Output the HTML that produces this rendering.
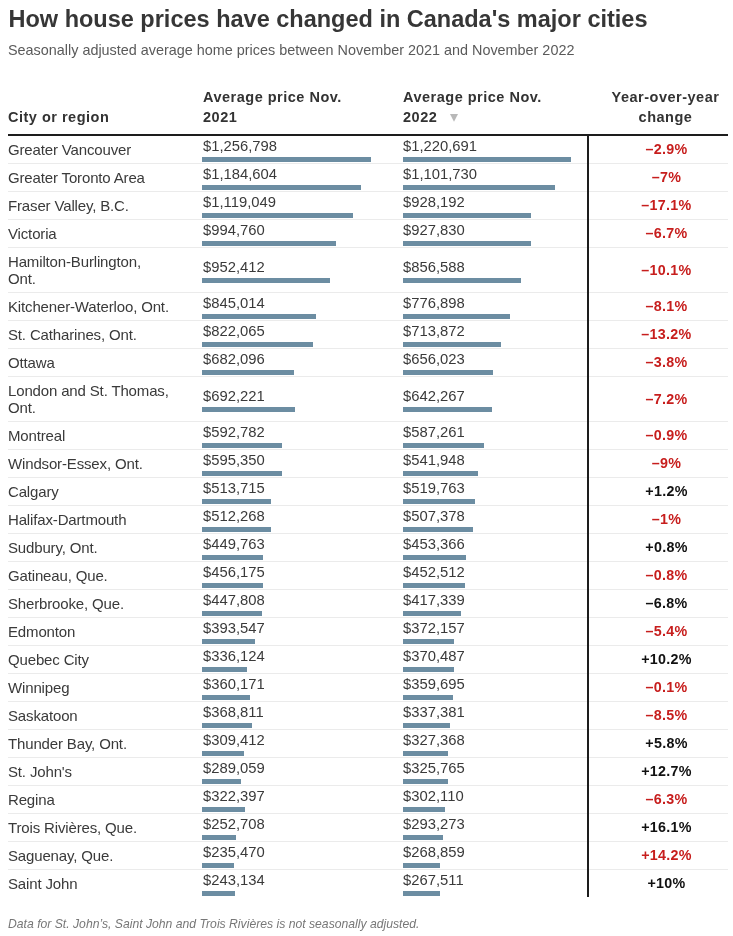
<!DOCTYPE html>
<html><head><meta charset="utf-8"><style>
html,body{margin:0;padding:0;background:#fff;width:733px;height:936px;overflow:hidden;position:relative}
#w{position:absolute;left:0;top:0;width:733px;height:936px;will-change:transform}
.t{position:absolute;white-space:nowrap;font-family:"Liberation Sans",sans-serif;line-height:1}
.b{position:absolute;height:5px;background:#6c8da2}
</style></head><body><div id="w">
<div class="t" style="left:8.5px;top:8.11px;font-size:23.5px;font-weight:700;color:#363636;">How house prices have changed in Canada's major cities</div>
<div class="t" style="left:8px;top:42.61px;font-size:14.4px;color:#5a5a5a;">Seasonally adjusted average home prices between November 2021 and November 2022</div>
<div class="t" style="left:8px;top:110.23px;font-size:14.5px;font-weight:700;color:#333;letter-spacing:0.5px;">City or region</div>
<div class="t" style="left:203px;top:89.53px;font-size:14.5px;font-weight:700;color:#333;letter-spacing:0.5px;">Average price Nov.</div>
<div class="t" style="left:203px;top:110.23px;font-size:14.5px;font-weight:700;color:#333;letter-spacing:0.5px;">2021</div>
<div class="t" style="left:403px;top:89.53px;font-size:14.5px;font-weight:700;color:#333;letter-spacing:0.5px;">Average price Nov.</div>
<div class="t" style="left:403px;top:110.23px;font-size:14.5px;font-weight:700;color:#333;letter-spacing:0.5px;">2022</div>
<div class="t" style="left:565.5px;width:200px;text-align:center;top:89.53px;font-size:14.5px;font-weight:700;color:#333;letter-spacing:0.5px;">Year-over-year</div>
<div class="t" style="left:565.5px;width:200px;text-align:center;top:110.23px;font-size:14.5px;font-weight:700;color:#333;letter-spacing:0.5px;">change</div>
<svg style="position:absolute;left:450px;top:114px" width="8" height="8"><path d="M0 0 L8 0 L4 7.8 Z" fill="#b8b8b8"/></svg>
<div style="position:absolute;left:8px;top:134px;width:720px;height:2px;background:#1d1d1d"></div>
<div class="t" style="left:8px;top:141.90px;font-size:15px;color:#3a3a3a;letter-spacing:-0.15px;">Greater Vancouver</div>
<div class="t" style="left:203px;top:139.27px;font-size:14.8px;color:#3a3a3a;letter-spacing:0px;">$1,256,798</div>
<div class="t" style="left:403px;top:139.27px;font-size:14.8px;color:#3a3a3a;letter-spacing:0px;">$1,220,691</div>
<div class="b" style="left:202px;top:157.0px;width:169.0px"></div>
<div class="b" style="left:403px;top:157.0px;width:168.2px"></div>
<div class="t" style="left:566.5px;width:200px;text-align:center;top:142.10px;font-size:14.3px;font-weight:700;color:#c71e1d;letter-spacing:0.3px;">–2.9%</div>
<div style="position:absolute;left:8px;top:163px;width:720px;height:1px;background:#ebebeb"></div>
<div class="t" style="left:8px;top:169.90px;font-size:15px;color:#3a3a3a;letter-spacing:-0.15px;">Greater Toronto Area</div>
<div class="t" style="left:203px;top:167.27px;font-size:14.8px;color:#3a3a3a;letter-spacing:0px;">$1,184,604</div>
<div class="t" style="left:403px;top:167.27px;font-size:14.8px;color:#3a3a3a;letter-spacing:0px;">$1,101,730</div>
<div class="b" style="left:202px;top:185.0px;width:159.3px"></div>
<div class="b" style="left:403px;top:185.0px;width:151.8px"></div>
<div class="t" style="left:566.5px;width:200px;text-align:center;top:170.10px;font-size:14.3px;font-weight:700;color:#c71e1d;letter-spacing:0.3px;">–7%</div>
<div style="position:absolute;left:8px;top:191px;width:720px;height:1px;background:#ebebeb"></div>
<div class="t" style="left:8px;top:197.90px;font-size:15px;color:#3a3a3a;letter-spacing:-0.15px;">Fraser Valley, B.C.</div>
<div class="t" style="left:203px;top:195.27px;font-size:14.8px;color:#3a3a3a;letter-spacing:0px;">$1,119,049</div>
<div class="t" style="left:403px;top:195.27px;font-size:14.8px;color:#3a3a3a;letter-spacing:0px;">$928,192</div>
<div class="b" style="left:202px;top:213.0px;width:150.5px"></div>
<div class="b" style="left:403px;top:213.0px;width:127.9px"></div>
<div class="t" style="left:566.5px;width:200px;text-align:center;top:198.10px;font-size:14.3px;font-weight:700;color:#c71e1d;letter-spacing:0.3px;">–17.1%</div>
<div style="position:absolute;left:8px;top:219px;width:720px;height:1px;background:#ebebeb"></div>
<div class="t" style="left:8px;top:225.90px;font-size:15px;color:#3a3a3a;letter-spacing:-0.15px;">Victoria</div>
<div class="t" style="left:203px;top:223.27px;font-size:14.8px;color:#3a3a3a;letter-spacing:0px;">$994,760</div>
<div class="t" style="left:403px;top:223.27px;font-size:14.8px;color:#3a3a3a;letter-spacing:0px;">$927,830</div>
<div class="b" style="left:202px;top:241.0px;width:133.8px"></div>
<div class="b" style="left:403px;top:241.0px;width:127.8px"></div>
<div class="t" style="left:566.5px;width:200px;text-align:center;top:226.10px;font-size:14.3px;font-weight:700;color:#c71e1d;letter-spacing:0.3px;">–6.7%</div>
<div style="position:absolute;left:8px;top:247px;width:720px;height:1px;background:#ebebeb"></div>
<div class="t" style="left:8px;top:254.20px;font-size:15px;color:#3a3a3a;letter-spacing:-0.15px;">Hamilton-Burlington,</div>
<div class="t" style="left:8px;top:270.80px;font-size:15px;color:#3a3a3a;letter-spacing:-0.15px;">Ont.</div>
<div class="t" style="left:203px;top:259.77px;font-size:14.8px;color:#3a3a3a;letter-spacing:0px;">$952,412</div>
<div class="t" style="left:403px;top:259.77px;font-size:14.8px;color:#3a3a3a;letter-spacing:0px;">$856,588</div>
<div class="b" style="left:202px;top:277.5px;width:128.1px"></div>
<div class="b" style="left:403px;top:277.5px;width:118.0px"></div>
<div class="t" style="left:566.5px;width:200px;text-align:center;top:262.60px;font-size:14.3px;font-weight:700;color:#c71e1d;letter-spacing:0.3px;">–10.1%</div>
<div style="position:absolute;left:8px;top:292px;width:720px;height:1px;background:#ebebeb"></div>
<div class="t" style="left:8px;top:298.90px;font-size:15px;color:#3a3a3a;letter-spacing:-0.15px;">Kitchener-Waterloo, Ont.</div>
<div class="t" style="left:203px;top:296.27px;font-size:14.8px;color:#3a3a3a;letter-spacing:0px;">$845,014</div>
<div class="t" style="left:403px;top:296.27px;font-size:14.8px;color:#3a3a3a;letter-spacing:0px;">$776,898</div>
<div class="b" style="left:202px;top:314.0px;width:113.6px"></div>
<div class="b" style="left:403px;top:314.0px;width:107.0px"></div>
<div class="t" style="left:566.5px;width:200px;text-align:center;top:299.10px;font-size:14.3px;font-weight:700;color:#c71e1d;letter-spacing:0.3px;">–8.1%</div>
<div style="position:absolute;left:8px;top:320px;width:720px;height:1px;background:#ebebeb"></div>
<div class="t" style="left:8px;top:326.90px;font-size:15px;color:#3a3a3a;letter-spacing:-0.15px;">St. Catharines, Ont.</div>
<div class="t" style="left:203px;top:324.27px;font-size:14.8px;color:#3a3a3a;letter-spacing:0px;">$822,065</div>
<div class="t" style="left:403px;top:324.27px;font-size:14.8px;color:#3a3a3a;letter-spacing:0px;">$713,872</div>
<div class="b" style="left:202px;top:342.0px;width:110.5px"></div>
<div class="b" style="left:403px;top:342.0px;width:98.4px"></div>
<div class="t" style="left:566.5px;width:200px;text-align:center;top:327.10px;font-size:14.3px;font-weight:700;color:#c71e1d;letter-spacing:0.3px;">–13.2%</div>
<div style="position:absolute;left:8px;top:348px;width:720px;height:1px;background:#ebebeb"></div>
<div class="t" style="left:8px;top:354.90px;font-size:15px;color:#3a3a3a;letter-spacing:-0.15px;">Ottawa</div>
<div class="t" style="left:203px;top:352.27px;font-size:14.8px;color:#3a3a3a;letter-spacing:0px;">$682,096</div>
<div class="t" style="left:403px;top:352.27px;font-size:14.8px;color:#3a3a3a;letter-spacing:0px;">$656,023</div>
<div class="b" style="left:202px;top:370.0px;width:91.7px"></div>
<div class="b" style="left:403px;top:370.0px;width:90.4px"></div>
<div class="t" style="left:566.5px;width:200px;text-align:center;top:355.10px;font-size:14.3px;font-weight:700;color:#c71e1d;letter-spacing:0.3px;">–3.8%</div>
<div style="position:absolute;left:8px;top:376px;width:720px;height:1px;background:#ebebeb"></div>
<div class="t" style="left:8px;top:383.20px;font-size:15px;color:#3a3a3a;letter-spacing:-0.15px;">London and St. Thomas,</div>
<div class="t" style="left:8px;top:399.80px;font-size:15px;color:#3a3a3a;letter-spacing:-0.15px;">Ont.</div>
<div class="t" style="left:203px;top:388.77px;font-size:14.8px;color:#3a3a3a;letter-spacing:0px;">$692,221</div>
<div class="t" style="left:403px;top:388.77px;font-size:14.8px;color:#3a3a3a;letter-spacing:0px;">$642,267</div>
<div class="b" style="left:202px;top:406.5px;width:93.1px"></div>
<div class="b" style="left:403px;top:406.5px;width:88.5px"></div>
<div class="t" style="left:566.5px;width:200px;text-align:center;top:391.60px;font-size:14.3px;font-weight:700;color:#c71e1d;letter-spacing:0.3px;">–7.2%</div>
<div style="position:absolute;left:8px;top:421px;width:720px;height:1px;background:#ebebeb"></div>
<div class="t" style="left:8px;top:427.90px;font-size:15px;color:#3a3a3a;letter-spacing:-0.15px;">Montreal</div>
<div class="t" style="left:203px;top:425.27px;font-size:14.8px;color:#3a3a3a;letter-spacing:0px;">$592,782</div>
<div class="t" style="left:403px;top:425.27px;font-size:14.8px;color:#3a3a3a;letter-spacing:0px;">$587,261</div>
<div class="b" style="left:202px;top:443.0px;width:79.7px"></div>
<div class="b" style="left:403px;top:443.0px;width:80.9px"></div>
<div class="t" style="left:566.5px;width:200px;text-align:center;top:428.10px;font-size:14.3px;font-weight:700;color:#c71e1d;letter-spacing:0.3px;">–0.9%</div>
<div style="position:absolute;left:8px;top:449px;width:720px;height:1px;background:#ebebeb"></div>
<div class="t" style="left:8px;top:455.90px;font-size:15px;color:#3a3a3a;letter-spacing:-0.15px;">Windsor-Essex, Ont.</div>
<div class="t" style="left:203px;top:453.27px;font-size:14.8px;color:#3a3a3a;letter-spacing:0px;">$595,350</div>
<div class="t" style="left:403px;top:453.27px;font-size:14.8px;color:#3a3a3a;letter-spacing:0px;">$541,948</div>
<div class="b" style="left:202px;top:471.0px;width:80.1px"></div>
<div class="b" style="left:403px;top:471.0px;width:74.7px"></div>
<div class="t" style="left:566.5px;width:200px;text-align:center;top:456.10px;font-size:14.3px;font-weight:700;color:#c71e1d;letter-spacing:0.3px;">–9%</div>
<div style="position:absolute;left:8px;top:477px;width:720px;height:1px;background:#ebebeb"></div>
<div class="t" style="left:8px;top:483.90px;font-size:15px;color:#3a3a3a;letter-spacing:-0.15px;">Calgary</div>
<div class="t" style="left:203px;top:481.27px;font-size:14.8px;color:#3a3a3a;letter-spacing:0px;">$513,715</div>
<div class="t" style="left:403px;top:481.27px;font-size:14.8px;color:#3a3a3a;letter-spacing:0px;">$519,763</div>
<div class="b" style="left:202px;top:499.0px;width:69.1px"></div>
<div class="b" style="left:403px;top:499.0px;width:71.6px"></div>
<div class="t" style="left:566.5px;width:200px;text-align:center;top:484.10px;font-size:14.3px;font-weight:700;color:#111;letter-spacing:0.3px;">+1.2%</div>
<div style="position:absolute;left:8px;top:505px;width:720px;height:1px;background:#ebebeb"></div>
<div class="t" style="left:8px;top:511.90px;font-size:15px;color:#3a3a3a;letter-spacing:-0.15px;">Halifax-Dartmouth</div>
<div class="t" style="left:203px;top:509.27px;font-size:14.8px;color:#3a3a3a;letter-spacing:0px;">$512,268</div>
<div class="t" style="left:403px;top:509.27px;font-size:14.8px;color:#3a3a3a;letter-spacing:0px;">$507,378</div>
<div class="b" style="left:202px;top:527.0px;width:68.9px"></div>
<div class="b" style="left:403px;top:527.0px;width:69.9px"></div>
<div class="t" style="left:566.5px;width:200px;text-align:center;top:512.10px;font-size:14.3px;font-weight:700;color:#c71e1d;letter-spacing:0.3px;">–1%</div>
<div style="position:absolute;left:8px;top:533px;width:720px;height:1px;background:#ebebeb"></div>
<div class="t" style="left:8px;top:539.90px;font-size:15px;color:#3a3a3a;letter-spacing:-0.15px;">Sudbury, Ont.</div>
<div class="t" style="left:203px;top:537.27px;font-size:14.8px;color:#3a3a3a;letter-spacing:0px;">$449,763</div>
<div class="t" style="left:403px;top:537.27px;font-size:14.8px;color:#3a3a3a;letter-spacing:0px;">$453,366</div>
<div class="b" style="left:202px;top:555.0px;width:60.5px"></div>
<div class="b" style="left:403px;top:555.0px;width:62.5px"></div>
<div class="t" style="left:566.5px;width:200px;text-align:center;top:540.10px;font-size:14.3px;font-weight:700;color:#111;letter-spacing:0.3px;">+0.8%</div>
<div style="position:absolute;left:8px;top:561px;width:720px;height:1px;background:#ebebeb"></div>
<div class="t" style="left:8px;top:567.90px;font-size:15px;color:#3a3a3a;letter-spacing:-0.15px;">Gatineau, Que.</div>
<div class="t" style="left:203px;top:565.27px;font-size:14.8px;color:#3a3a3a;letter-spacing:0px;">$456,175</div>
<div class="t" style="left:403px;top:565.27px;font-size:14.8px;color:#3a3a3a;letter-spacing:0px;">$452,512</div>
<div class="b" style="left:202px;top:583.0px;width:61.3px"></div>
<div class="b" style="left:403px;top:583.0px;width:62.4px"></div>
<div class="t" style="left:566.5px;width:200px;text-align:center;top:568.10px;font-size:14.3px;font-weight:700;color:#c71e1d;letter-spacing:0.3px;">–0.8%</div>
<div style="position:absolute;left:8px;top:589px;width:720px;height:1px;background:#ebebeb"></div>
<div class="t" style="left:8px;top:595.90px;font-size:15px;color:#3a3a3a;letter-spacing:-0.15px;">Sherbrooke, Que.</div>
<div class="t" style="left:203px;top:593.27px;font-size:14.8px;color:#3a3a3a;letter-spacing:0px;">$447,808</div>
<div class="t" style="left:403px;top:593.27px;font-size:14.8px;color:#3a3a3a;letter-spacing:0px;">$417,339</div>
<div class="b" style="left:202px;top:611.0px;width:60.2px"></div>
<div class="b" style="left:403px;top:611.0px;width:57.5px"></div>
<div class="t" style="left:566.5px;width:200px;text-align:center;top:596.10px;font-size:14.3px;font-weight:700;color:#111;letter-spacing:0.3px;">–6.8%</div>
<div style="position:absolute;left:8px;top:617px;width:720px;height:1px;background:#ebebeb"></div>
<div class="t" style="left:8px;top:623.90px;font-size:15px;color:#3a3a3a;letter-spacing:-0.15px;">Edmonton</div>
<div class="t" style="left:203px;top:621.27px;font-size:14.8px;color:#3a3a3a;letter-spacing:0px;">$393,547</div>
<div class="t" style="left:403px;top:621.27px;font-size:14.8px;color:#3a3a3a;letter-spacing:0px;">$372,157</div>
<div class="b" style="left:202px;top:639.0px;width:52.9px"></div>
<div class="b" style="left:403px;top:639.0px;width:51.3px"></div>
<div class="t" style="left:566.5px;width:200px;text-align:center;top:624.10px;font-size:14.3px;font-weight:700;color:#c71e1d;letter-spacing:0.3px;">–5.4%</div>
<div style="position:absolute;left:8px;top:645px;width:720px;height:1px;background:#ebebeb"></div>
<div class="t" style="left:8px;top:651.90px;font-size:15px;color:#3a3a3a;letter-spacing:-0.15px;">Quebec City</div>
<div class="t" style="left:203px;top:649.27px;font-size:14.8px;color:#3a3a3a;letter-spacing:0px;">$336,124</div>
<div class="t" style="left:403px;top:649.27px;font-size:14.8px;color:#3a3a3a;letter-spacing:0px;">$370,487</div>
<div class="b" style="left:202px;top:667.0px;width:45.2px"></div>
<div class="b" style="left:403px;top:667.0px;width:51.0px"></div>
<div class="t" style="left:566.5px;width:200px;text-align:center;top:652.10px;font-size:14.3px;font-weight:700;color:#111;letter-spacing:0.3px;">+10.2%</div>
<div style="position:absolute;left:8px;top:673px;width:720px;height:1px;background:#ebebeb"></div>
<div class="t" style="left:8px;top:679.90px;font-size:15px;color:#3a3a3a;letter-spacing:-0.15px;">Winnipeg</div>
<div class="t" style="left:203px;top:677.27px;font-size:14.8px;color:#3a3a3a;letter-spacing:0px;">$360,171</div>
<div class="t" style="left:403px;top:677.27px;font-size:14.8px;color:#3a3a3a;letter-spacing:0px;">$359,695</div>
<div class="b" style="left:202px;top:695.0px;width:48.4px"></div>
<div class="b" style="left:403px;top:695.0px;width:49.6px"></div>
<div class="t" style="left:566.5px;width:200px;text-align:center;top:680.10px;font-size:14.3px;font-weight:700;color:#c71e1d;letter-spacing:0.3px;">–0.1%</div>
<div style="position:absolute;left:8px;top:701px;width:720px;height:1px;background:#ebebeb"></div>
<div class="t" style="left:8px;top:707.90px;font-size:15px;color:#3a3a3a;letter-spacing:-0.15px;">Saskatoon</div>
<div class="t" style="left:203px;top:705.27px;font-size:14.8px;color:#3a3a3a;letter-spacing:0px;">$368,811</div>
<div class="t" style="left:403px;top:705.27px;font-size:14.8px;color:#3a3a3a;letter-spacing:0px;">$337,381</div>
<div class="b" style="left:202px;top:723.0px;width:49.6px"></div>
<div class="b" style="left:403px;top:723.0px;width:46.5px"></div>
<div class="t" style="left:566.5px;width:200px;text-align:center;top:708.10px;font-size:14.3px;font-weight:700;color:#c71e1d;letter-spacing:0.3px;">–8.5%</div>
<div style="position:absolute;left:8px;top:729px;width:720px;height:1px;background:#ebebeb"></div>
<div class="t" style="left:8px;top:735.90px;font-size:15px;color:#3a3a3a;letter-spacing:-0.15px;">Thunder Bay, Ont.</div>
<div class="t" style="left:203px;top:733.27px;font-size:14.8px;color:#3a3a3a;letter-spacing:0px;">$309,412</div>
<div class="t" style="left:403px;top:733.27px;font-size:14.8px;color:#3a3a3a;letter-spacing:0px;">$327,368</div>
<div class="b" style="left:202px;top:751.0px;width:41.6px"></div>
<div class="b" style="left:403px;top:751.0px;width:45.1px"></div>
<div class="t" style="left:566.5px;width:200px;text-align:center;top:736.10px;font-size:14.3px;font-weight:700;color:#111;letter-spacing:0.3px;">+5.8%</div>
<div style="position:absolute;left:8px;top:757px;width:720px;height:1px;background:#ebebeb"></div>
<div class="t" style="left:8px;top:763.90px;font-size:15px;color:#3a3a3a;letter-spacing:-0.15px;">St. John's</div>
<div class="t" style="left:203px;top:761.27px;font-size:14.8px;color:#3a3a3a;letter-spacing:0px;">$289,059</div>
<div class="t" style="left:403px;top:761.27px;font-size:14.8px;color:#3a3a3a;letter-spacing:0px;">$325,765</div>
<div class="b" style="left:202px;top:779.0px;width:38.9px"></div>
<div class="b" style="left:403px;top:779.0px;width:44.9px"></div>
<div class="t" style="left:566.5px;width:200px;text-align:center;top:764.10px;font-size:14.3px;font-weight:700;color:#111;letter-spacing:0.3px;">+12.7%</div>
<div style="position:absolute;left:8px;top:785px;width:720px;height:1px;background:#ebebeb"></div>
<div class="t" style="left:8px;top:791.90px;font-size:15px;color:#3a3a3a;letter-spacing:-0.15px;">Regina</div>
<div class="t" style="left:203px;top:789.27px;font-size:14.8px;color:#3a3a3a;letter-spacing:0px;">$322,397</div>
<div class="t" style="left:403px;top:789.27px;font-size:14.8px;color:#3a3a3a;letter-spacing:0px;">$302,110</div>
<div class="b" style="left:202px;top:807.0px;width:43.4px"></div>
<div class="b" style="left:403px;top:807.0px;width:41.6px"></div>
<div class="t" style="left:566.5px;width:200px;text-align:center;top:792.10px;font-size:14.3px;font-weight:700;color:#c71e1d;letter-spacing:0.3px;">–6.3%</div>
<div style="position:absolute;left:8px;top:813px;width:720px;height:1px;background:#ebebeb"></div>
<div class="t" style="left:8px;top:819.90px;font-size:15px;color:#3a3a3a;letter-spacing:-0.15px;">Trois Rivières, Que.</div>
<div class="t" style="left:203px;top:817.27px;font-size:14.8px;color:#3a3a3a;letter-spacing:0px;">$252,708</div>
<div class="t" style="left:403px;top:817.27px;font-size:14.8px;color:#3a3a3a;letter-spacing:0px;">$293,273</div>
<div class="b" style="left:202px;top:835.0px;width:34.0px"></div>
<div class="b" style="left:403px;top:835.0px;width:40.4px"></div>
<div class="t" style="left:566.5px;width:200px;text-align:center;top:820.10px;font-size:14.3px;font-weight:700;color:#111;letter-spacing:0.3px;">+16.1%</div>
<div style="position:absolute;left:8px;top:841px;width:720px;height:1px;background:#ebebeb"></div>
<div class="t" style="left:8px;top:847.90px;font-size:15px;color:#3a3a3a;letter-spacing:-0.15px;">Saguenay, Que.</div>
<div class="t" style="left:203px;top:845.27px;font-size:14.8px;color:#3a3a3a;letter-spacing:0px;">$235,470</div>
<div class="t" style="left:403px;top:845.27px;font-size:14.8px;color:#3a3a3a;letter-spacing:0px;">$268,859</div>
<div class="b" style="left:202px;top:863.0px;width:31.7px"></div>
<div class="b" style="left:403px;top:863.0px;width:37.0px"></div>
<div class="t" style="left:566.5px;width:200px;text-align:center;top:848.10px;font-size:14.3px;font-weight:700;color:#c71e1d;letter-spacing:0.3px;">+14.2%</div>
<div style="position:absolute;left:8px;top:869px;width:720px;height:1px;background:#ebebeb"></div>
<div class="t" style="left:8px;top:875.90px;font-size:15px;color:#3a3a3a;letter-spacing:-0.15px;">Saint John</div>
<div class="t" style="left:203px;top:873.27px;font-size:14.8px;color:#3a3a3a;letter-spacing:0px;">$243,134</div>
<div class="t" style="left:403px;top:873.27px;font-size:14.8px;color:#3a3a3a;letter-spacing:0px;">$267,511</div>
<div class="b" style="left:202px;top:891.0px;width:32.7px"></div>
<div class="b" style="left:403px;top:891.0px;width:36.9px"></div>
<div class="t" style="left:566.5px;width:200px;text-align:center;top:876.10px;font-size:14.3px;font-weight:700;color:#111;letter-spacing:0.3px;">+10%</div>
<div style="position:absolute;left:587px;top:136px;width:2px;height:761px;background:#1d1d1d"></div>
<div class="t" style="left:8px;top:917.57px;font-size:12.2px;font-style:italic;color:#777;">Data for St. John’s, Saint John and Trois Rivières is not seasonally adjusted.</div>
</div></body></html>
